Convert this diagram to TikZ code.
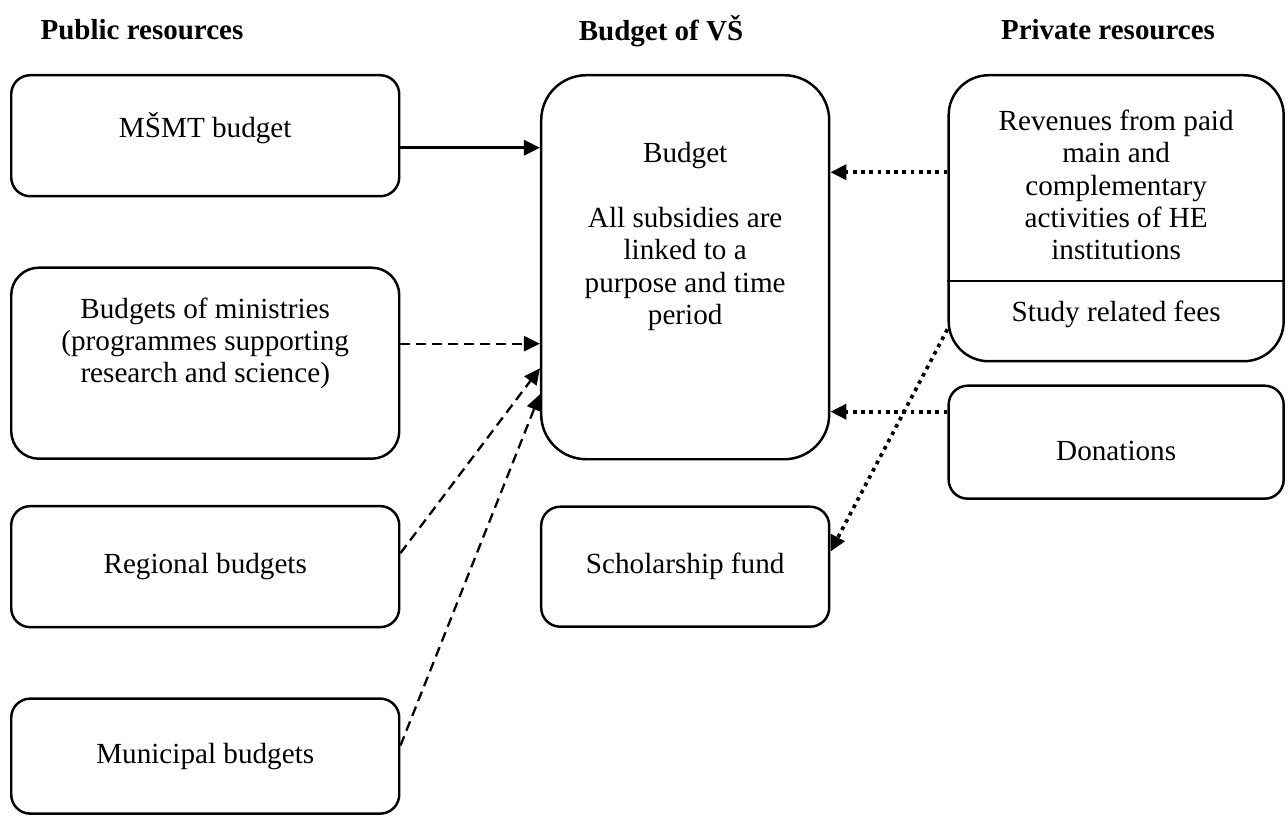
\documentclass[tikz,border=0pt]{standalone}
\usepackage{fontspec}
\setmainfont{Liberation Serif}
\usetikzlibrary{arrows.meta, positioning}

\begin{document}
\begin{tikzpicture}[font=\fontsize{16.6}{18.4}\selectfont, line width=1.4pt,
    box/.style={draw, rounded corners=0.38cm, align=center, minimum width=7.76cm},
    txt/.style={align=center, inner sep=0pt},
    head/.style={font=\fontsize{16.5}{18.4}\selectfont\bfseries},
    solidflow/.style={-{Triangle[length=0.32cm,width=0.3cm]}, line width=1.7pt},
    dashflow/.style={-{Triangle[length=0.32cm,width=0.3cm]}, line width=1.3pt, dash pattern=on 5.7pt off 3.4pt},
    dotflow/.style={-{Triangle[length=0.32cm,width=0.3cm]}, line width=2.1pt, dash pattern=on 2.1pt off 2.6pt}]

\useasboundingbox (0,0) rectangle (25.76,-16.32);

% Headings
\node[head] (publichead) at (2.84,-0.6) {Public resources};
\node[head] (vshead) at (13.22,-0.62) {Budget of VŠ};
\node[head] (privatehead) at (22.16,-0.6) {Private resources};

% Public resources
\node[box,
    anchor=north west,
    minimum height=2.42cm,
    text depth=0.45cm
] (msmt) at (0.2,-1.48) {MŠMT budget};

\node[box,
    below=1.38cm of msmt,
    minimum height=3.82cm,
    rounded corners=0.55cm
] (ministries) {};
\node[txt] (ministriestext) at ([yshift=-1.54cm]ministries.north)
    {Budgets of ministries\\(programmes supporting\\research and science)};

\node[box,
    below=0.9cm of ministries,
    minimum height=2.42cm
] (regional) {Regional budgets};

\node[box,
    below=1.38cm of regional,
    minimum height=2.3cm
] (municipal) {Municipal budgets};

% Budget of the school
\node[box,
    right=2.79cm of msmt.north east, anchor=north west,
    minimum width=5.76cm,
    minimum height=7.68cm,
    rounded corners=0.9cm
] (budget) {};
\node[txt] (budgettext) at ([yshift=-3.25cm]budget.north)
    {Budget\\[0.65cm]All subsidies are\\linked to a\\purpose and time\\period};

\node[box,
    below=0.9cm of budget,
    minimum width=5.76cm,
    minimum height=2.4cm
] (scholarship) {Scholarship fund};

% Private resources
\node[box,
    right=2.34cm of budget.north east, anchor=north west,
    minimum width=6.7cm,
    minimum height=5.72cm,
    rounded corners=0.8cm
] (revenues) {};
\node[txt] (revenuestext) at ([yshift=-2.22cm]revenues.north)
    {Revenues from paid\\main and\\complementary\\activities of HE\\institutions};
\node[txt] (fees) at ([yshift=-4.8cm]revenues.north) {Study related fees};
\coordinate (split) at ([yshift=-4.14cm]revenues.north);
\draw[line width=1.1pt] (split -| revenues.west) -- (split -| revenues.east);

\node[box,
    below=0.44cm of revenues,
    minimum width=6.7cm,
    minimum height=2.26cm,
    text height=0.74cm
] (donations) {Donations};

% Arrows
\coordinate (msmtout) at ([yshift=-0.24cm]msmt.east);
\draw[solidflow] (msmtout) -- (msmtout -| budget.west);
\coordinate (minout) at ([yshift=0.39cm]ministries.east);
\draw[dashflow] (minout) -- (minout -| budget.west);
\draw[dashflow] ([yshift=0.27cm]regional.east) -- ([yshift=-2.02cm]budget.west);
\draw[dashflow] ([yshift=0.21cm]municipal.east) -- ([yshift=-2.54cm]budget.west);
\coordinate (revout) at ([yshift=0.92cm]revenues.west);
\draw[dotflow] (revout) -- (revout -| budget.east);
\coordinate (donout) at ([yshift=0.61cm]donations.west);
\draw[dotflow] (donout) -- (donout -| budget.east);
\draw[dotflow] ([yshift=-2.22cm]revenues.west) -- ([yshift=0.3cm]scholarship.east);

\end{tikzpicture}
\end{document}
